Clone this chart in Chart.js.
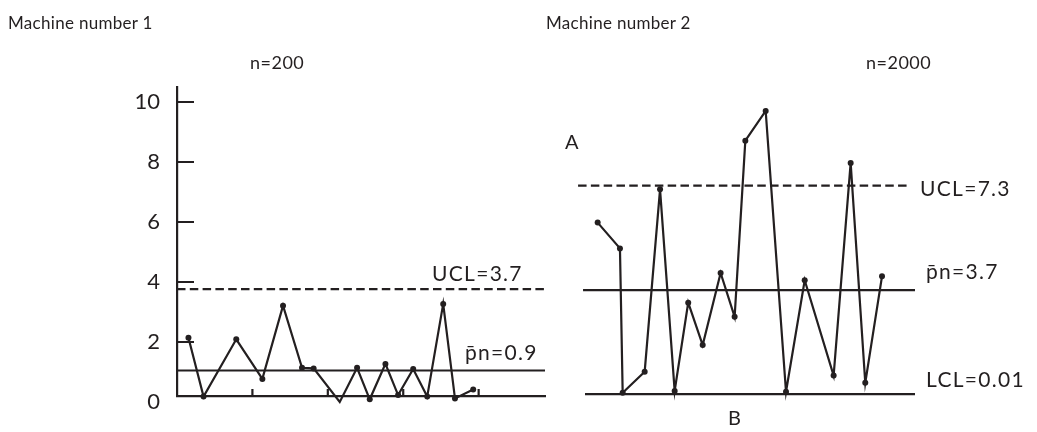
<!DOCTYPE html>
<html>
<head>
<meta charset="utf-8">
<script src="https://cdn.jsdelivr.net/npm/chart.js@4.4.1/dist/chart.umd.min.js"></script>
<style>
  body { margin: 0; background: #fff; }
  #page { position: relative; width: 1037px; height: 432px; overflow: hidden; font-family: Lato, "DejaVu Sans", sans-serif; color: #231f20; }
  .box { position: absolute; top: 0; height: 432px; }
  .lbl { position: absolute; white-space: nowrap; line-height: 1; transform: translateY(-50%); }
</style>
</head>
<body>
<div id="page">
  <div class="box" style="left:0; width:560px;"><canvas id="chart1"></canvas></div>
  <div class="box" style="left:560px; width:477px;"><canvas id="chart2"></canvas></div>
</div>
<script>
// --- Data ---
// Machine 1, n=200
const m1X = [0.76, 1.76, 3.93, 5.66, 7.03, 8.29, 9.06, 10.79, 11.94, 12.78, 13.82, 14.66, 15.66, 16.59, 17.65, 18.43, 19.64];
const m1Y = [2.14, 0.18, 2.09, 0.77, 3.21, 1.14, 1.12, 0.0, 1.14, 0.09, 1.27, 0.23, 1.10, 0.18, 3.27, 0.12, 0.42];
const m1Center = 1.05;
const m1Ucl = 3.76;

// Machine 2, n=2000
const m2X = [0.84, 2.32, 2.50, 3.96, 4.98, 5.95, 6.85, 7.81, 9.00, 9.93, 10.64, 11.99, 13.34, 14.58, 16.50, 17.63, 18.60, 19.71];
const m2Y = [5.98, 5.12, 0.31, 1.01, 7.09, 0.37, 3.31, 1.90, 4.30, 2.84, 8.71, 9.70, 0.34, 4.06, 0.88, 7.97, 0.64, 4.19];
const m2Center = 3.73;
const m2Ucl = 7.21;
const m2Lcl = 0.26;

const yTicks = [0, 2, 4, 6, 8, 10];
const xTickMarks = [5, 10, 15, 20];

// --- Texts ---
const labels = [
    { text: 'Machine number 1', x: 8, y: 22, size: 17, sp: 0.3 },
    { text: 'n=200', x: 250, y: 62, size: 18, sp: 0.5 },
    { text: 'Machine number 2', x: 546, y: 22, size: 17, sp: 0.3 },
    { text: 'n=2000', x: 866, y: 62, size: 18, sp: 0.5 },
    { text: 'UCL=3.7', x: 432, y: 272, size: 21, sp: 1.3 },
    { text: 'p\u0304n=0.9', x: 465, y: 351, size: 21, sp: 1.3 },
    { text: 'UCL=7.3', x: 920, y: 187, size: 21, sp: 1.3 },
    { text: 'p\u0304n=3.7', x: 926, y: 270, size: 21, sp: 1.3 },
    { text: 'LCL=0.01', x: 926, y: 378, size: 21, sp: 1.3 },
    { text: 'A', x: 565, y: 141, size: 20, sp: 0 },
    { text: 'B', x: 728, y: 417, size: 20, sp: 0 }
];

const page = document.getElementById('page');
labels.forEach(l => {
    const d = document.createElement('div');
    d.className = 'lbl';
    d.textContent = l.text;
    d.style.left = l.x + 'px';
    d.style.top = l.y + 'px';
    d.style.fontSize = l.size + 'px';
    d.style.letterSpacing = l.sp + 'px';
    page.appendChild(d);
});

const INK = '#231f20';
const pts = (xs, ys) => xs.map((x, i) => ({ x: x, y: ys[i] }));
const hline = (x0, x1, y) => [{ x: x0, y: y }, { x: x1, y: y }];

const seriesStyle = {
    borderColor: INK, borderWidth: 2.2, pointRadius: 3, pointBackgroundColor: INK,
    pointBorderWidth: 0, tension: 0, clip: false
};
const lineStyle = { borderColor: INK, borderWidth: 2.2, pointRadius: 0, clip: false };
const dashStyle = { borderColor: INK, borderWidth: 2.2, pointRadius: 0, borderDash: [8.5, 4.3], clip: false };

// inward tick marks on the left chart
const tickMarks = {
    id: 'tickMarks',
    afterDraw(chart) {
        const c = chart.ctx, a = chart.chartArea;
        const ys = chart.scales.y, xs = chart.scales.x;
        c.save();
        c.strokeStyle = INK;
        c.lineWidth = 2.2;
        c.beginPath();
        yTicks.forEach(v => {
            if (v === 0) return;
            const py = ys.getPixelForValue(v);
            c.moveTo(a.left, py);
            c.lineTo(a.left + 17, py);
        });
        xTickMarks.forEach(v => {
            const px = xs.getPixelForValue(v);
            c.moveTo(px, a.bottom);
            c.lineTo(px, a.bottom - 7);
        });
        c.stroke();
        c.restore();
    }
};

function yScale(show) {
    const s = {
        type: 'linear', min: 0.2, max: 10.5, display: show,
        afterBuildTicks: sc => { sc.ticks = yTicks.map(v => ({ value: v })); },
        grid: { display: false, drawTicks: false },
        border: { display: show, color: INK, width: 2.2 },
        ticks: { color: INK, padding: 17, font: { family: 'Lato', size: 22 } }
    };
    if (show) s.afterFit = sc => { sc.width = 177; };
    return s;
}

new Chart(document.getElementById('chart1'), {
    type: 'line',
    data: {
        datasets: [
            Object.assign({ data: pts(m1X, m1Y) }, seriesStyle),
            Object.assign({ data: hline(0, 24.4, m1Center) }, lineStyle),
            Object.assign({ data: hline(0, 24.4, m1Ucl) }, dashStyle)
        ]
    },
    options: {
        responsive: true, maintainAspectRatio: false, animation: false,
        layout: { padding: { left: 0, right: 15, top: 87, bottom: 36 } },
        plugins: { legend: { display: false }, tooltip: { enabled: false } },
        scales: {
            x: {
                type: 'linear', min: 0, max: 24.4,
                afterFit: s => { s.height = 0; },
                grid: { display: false, drawTicks: false },
                border: { display: true, color: INK, width: 2.2 },
                ticks: { display: false }
            },
            y: yScale(true)
        }
    },
    plugins: [tickMarks]
});

new Chart(document.getElementById('chart2'), {
    type: 'line',
    data: {
        datasets: [
            Object.assign({ data: pts(m2X, m2Y) }, seriesStyle),
            Object.assign({ data: hline(-0.13, 21.9, m2Center) }, lineStyle),
            Object.assign({ data: hline(0, 21.9, m2Lcl) }, lineStyle),
            Object.assign({ data: hline(-0.46, 21.57, m2Ucl) }, dashStyle)
        ]
    },
    options: {
        responsive: true, maintainAspectRatio: false, animation: false,
        layout: { padding: { left: 25, right: 122, top: 87, bottom: 36 } },
        plugins: { legend: { display: false }, tooltip: { enabled: false } },
        scales: {
            x: { type: 'linear', min: 0, max: 21.9, display: false },
            y: yScale(false)
        }
    }
});
</script>
</body>
</html>
